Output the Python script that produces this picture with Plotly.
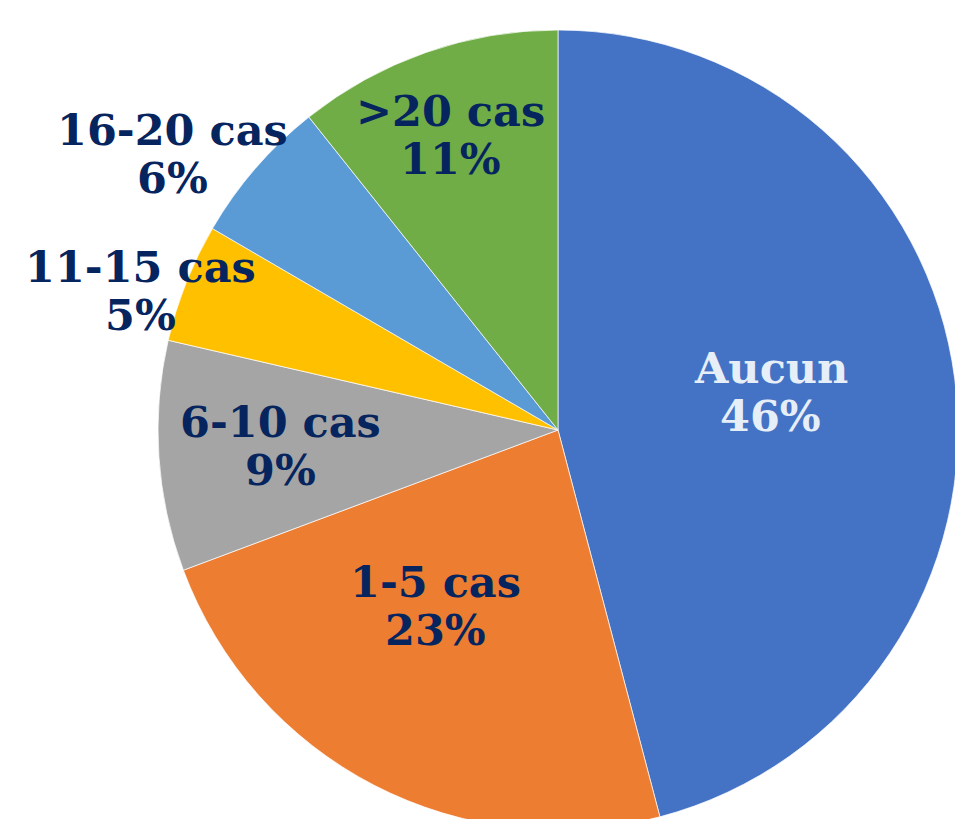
import math
import plotly.graph_objects as go

# ---- data ----
categories = ["Aucun", "1-5 cas", "6-10 cas", "11-15 cas", "16-20 cas", ">20 cas"]
values = [45.9, 23.4, 9.3, 4.8, 5.9, 10.7]          # shares
percent_labels = [f"{round(v)}%" for v in values]    # rounded as shown on the chart

# ---- style ----
colors = ["#4472C4", "#ED7D31", "#A5A5A5", "#FFC000", "#5B9BD5", "#70AD47"]
label_colors = ["#E6EEF8", "#06255F", "#06255F", "#06255F", "#06255F", "#06255F"]
label_radius = [0.54, 0.537, 0.694, 1.099, 1.186, 0.786]     # fraction of pie radius
label_angle_shift = [-2.8, 7.5, 0.5, -3.2, -5.3, -0.8]       # degrees from slice bisector
FONT = "DejaVu Serif"
FONT_SIZE = 43
LINE_HALF = 24

W, H = 960, 860
CX, CY, R = 558, 430, 400

fig = go.Figure(
    go.Pie(
        labels=categories,
        values=values,
        sort=False,
        direction="clockwise",
        rotation=0,
        marker=dict(colors=colors, line=dict(color="rgba(255,255,255,0.7)", width=1)),
        textinfo="none",
        hoverinfo="label+percent",
        showlegend=False,
        domain=dict(x=[(CX - R) / W, (CX + R) / W],
                    y=[1 - (CY + R) / H, 1 - (CY - R) / H]),
    )
)

total = sum(values)
cum = 0
annotations = []
for cat, v, lab, col, rf, sh in zip(categories, values, percent_labels, label_colors,
                                    label_radius, label_angle_shift):
    mid = (cum + v / 2) / total * 360 + sh
    cum += v
    a = math.radians(mid)
    px = CX + rf * R * math.sin(a)
    py = CY - rf * R * math.cos(a)
    for txt, dy in ((cat, -LINE_HALF), (lab, LINE_HALF)):
        annotations.append(dict(
            x=px / W, y=1 - (py + dy) / H, xref="paper", yref="paper",
            text=f"<b>{txt}</b>", showarrow=False,
            xanchor="center", yanchor="middle",
            font=dict(family=FONT, size=FONT_SIZE, color=col),
        ))

fig.update_layout(
    width=W, height=H,
    margin=dict(l=0, r=0, t=0, b=0),
    paper_bgcolor="white", plot_bgcolor="white",
    annotations=annotations,
)

fig.write_html(
    "out.html",
    config={"displayModeBar": False},
    post_script="document.body.style.margin='0';document.body.style.overflow='hidden';document.documentElement.style.overflow='hidden';",
)
